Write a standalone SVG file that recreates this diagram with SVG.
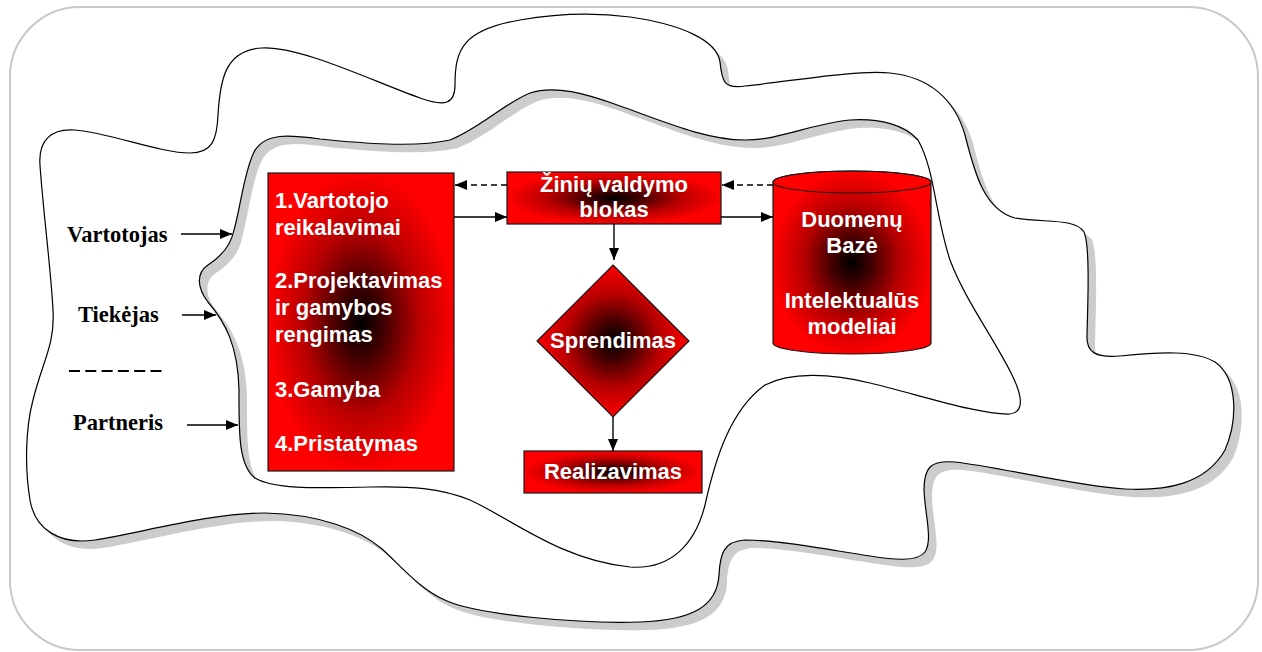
<svg xmlns="http://www.w3.org/2000/svg" width="1262" height="652" viewBox="0 0 1262 652">
  <defs>
    <radialGradient id="redGlow" cx="0.5" cy="0.5" r="0.62">
      <stop offset="0" stop-color="#000000"/>
      <stop offset="0.18" stop-color="#3a0000"/>
      <stop offset="0.5" stop-color="#b80000"/>
      <stop offset="0.82" stop-color="#ff0000"/>
      <stop offset="1" stop-color="#ff0000"/>
    </radialGradient>
    <marker id="arrow" markerUnits="userSpaceOnUse" markerWidth="13" markerHeight="11" refX="12" refY="5" orient="auto">
      <path d="M0,0 L12,5 L0,10 Z" fill="#000"/>
    </marker>
    <!-- ring-shaped environment: outer boundary with an inner hole -->
    <path id="ring" fill-rule="evenodd" d="
      M 40,165
      C 38,140 52,128 75,130
      C 110,133 160,153 190,153
      C 212,153 217,140 218,115
      C 220,80 225,50 262,48
      C 300,46 370,80 420,98
      C 445,107 455,104 455,85
      C 455,50 462,30 520,20
      C 560,13 600,13 630,17
      C 680,24 717,40 720,62
      C 722,82 724,89 745,86
      C 800,80 855,70 890,73
      C 930,77 955,100 965,135
      C 975,175 985,210 1015,218
      C 1045,223 1075,218 1084,232
      C 1090,245 1088,300 1087,335
      C 1086,352 1095,358 1120,356
      C 1160,352 1195,350 1215,362
      C 1238,378 1238,420 1225,450
      C 1205,485 1165,491 1125,489
      C 1075,486 1000,467 955,462
      C 930,460 924,468 924,490
      C 925,515 933,540 925,552
      C 917,562 895,560 870,556
      C 830,550 780,540 745,540
      C 723,541 720,555 719,575
      C 717,605 695,620 640,622
      C 580,624 480,615 447,601
      C 420,590 400,565 382,549
      C 360,530 320,514 265,513
      C 210,513 140,533 95,540
      C 60,545 35,530 30,500
      C 25,470 25,430 33,400
      C 43,360 55,345 53,310
      C 51,270 43,210 40,165 Z
      M 234,230
      C 231,245 222,256 208,265
      C 196,273 197,288 208,302
      C 225,322 238,345 239,390
      C 239,430 238,465 255,478
      C 275,490 320,488 370,487
      C 410,486 440,488 470,500
      C 510,518 560,560 630,567
      C 670,570 695,545 705,505
      C 715,460 730,410 765,385
      C 790,372 830,373 870,383
      C 920,395 980,415 1010,414
      C 1025,412 1022,395 1012,375
      C 995,340 965,300 950,260
      C 935,215 935,170 918,140
      C 905,125 880,118 850,120
      C 810,124 780,140 745,140
      C 705,140 660,120 620,106
      C 585,93 555,85 530,93
      C 505,103 480,128 450,140
      C 415,148 360,143 320,139
      C 290,135 265,132 254,152
      C 244,172 240,210 234,230 Z"/>
  </defs>
  <style>
    .frame { fill: #ffffff; stroke: #c8c8c8; stroke-width: 2; }
    .shadow { fill: #cccccc; stroke: none; }
    .env { fill: #ffffff; stroke: #000000; stroke-width: 1.2; }
    .block { fill: url(#redGlow); stroke: #1a1a1a; stroke-width: 1.2; }
    .outline { fill: none; stroke: #1a1a1a; stroke-width: 1.2; }
    .w { font-family: "Liberation Sans", Arial, sans-serif; font-weight: bold; font-size: 22px; fill: #ffffff; }
    .c { text-anchor: middle; }
    .lbl { font-family: "Liberation Serif", "Times New Roman", serif; font-weight: bold; font-size: 22.5px; fill: #000000; }
    .link { fill: none; stroke: #000000; stroke-width: 1.4; marker-end: url(#arrow); }
    .dash { stroke-dasharray: 6 4; }
  </style>

  <!-- outer frame -->
  <rect class="frame" x="10" y="7" width="1248" height="643" rx="70" ry="70"/>

  <!-- environment ring with drop shadow -->
  <g id="environment">
    <use href="#ring" class="shadow" transform="translate(8,8)"/>
    <use href="#ring" class="env"/>
  </g>

  <!-- external parties -->
  <g id="vartotojas">
    <text class="lbl" x="67" y="242">Vartotojas</text>
  </g>
  <g id="tiekejas">
    <text class="lbl" x="78" y="322">Tiekėjas</text>
  </g>
  <line id="separator" x1="69" y1="371" x2="166" y2="371" stroke="#000" stroke-width="2" stroke-dasharray="11 5.3"/>
  <g id="partneris">
    <text class="lbl" x="73" y="430">Partneris</text>
  </g>

  <!-- process stages -->
  <g id="etapai">
    <rect class="block" x="268" y="173" width="186" height="298"/>
    <text class="w" x="275" y="208">1.Vartotojo</text>
    <text class="w" x="275" y="235">reikalavimai</text>
    <text class="w" x="275" y="288">2.Projektavimas</text>
    <text class="w" x="275" y="315">ir gamybos</text>
    <text class="w" x="275" y="342">rengimas</text>
    <text class="w" x="275" y="397">3.Gamyba</text>
    <text class="w" x="275" y="451">4.Pristatymas</text>
  </g>

  <!-- knowledge management block -->
  <g id="ziniu-valdymas">
    <rect class="block" x="507" y="172" width="214" height="52"/>
    <text class="w c" x="614" y="192">Žinių valdymo</text>
    <text class="w c" x="614" y="217">blokas</text>
  </g>

  <!-- database cylinder -->
  <g id="duomenu-baze">
    <path class="block" d="M773,182 L773,343 A79,11 0 0 0 931,343 L931,182 A79,11 0 0 0 773,182 Z"/>
    <ellipse class="outline" cx="852" cy="182" rx="79" ry="11"/>
    <text class="w c" x="852" y="227">Duomenų</text>
    <text class="w c" x="852" y="253">Bazė</text>
    <text class="w c" x="852" y="308">Intelektualūs</text>
    <text class="w c" x="852" y="334">modeliai</text>
  </g>

  <!-- decision -->
  <g id="sprendimas">
    <polygon class="block" points="613,265 689,341 613,417 537,341"/>
    <text class="w c" x="613" y="348">Sprendimas</text>
  </g>

  <!-- realization -->
  <g id="realizavimas">
    <rect class="block" x="524" y="451" width="178" height="42"/>
    <text class="w c" x="613" y="479">Realizavimas</text>
  </g>

  <!-- connectors -->
  <g id="connectors">
    <line class="link" x1="181" y1="234" x2="232" y2="234"/>
    <line class="link" x1="182" y1="315" x2="216" y2="315"/>
    <line class="link" x1="187" y1="425" x2="238" y2="425"/>
    <line class="link dash" x1="507" y1="185" x2="455" y2="185"/>
    <line class="link" x1="454" y1="217" x2="507" y2="217"/>
    <line class="link dash" x1="773" y1="185" x2="722" y2="185"/>
    <line class="link" x1="721" y1="217" x2="773" y2="217"/>
    <line class="link" x1="614" y1="224" x2="614" y2="260"/>
    <line class="link" x1="613" y1="417" x2="613" y2="451"/>
  </g>
</svg>
